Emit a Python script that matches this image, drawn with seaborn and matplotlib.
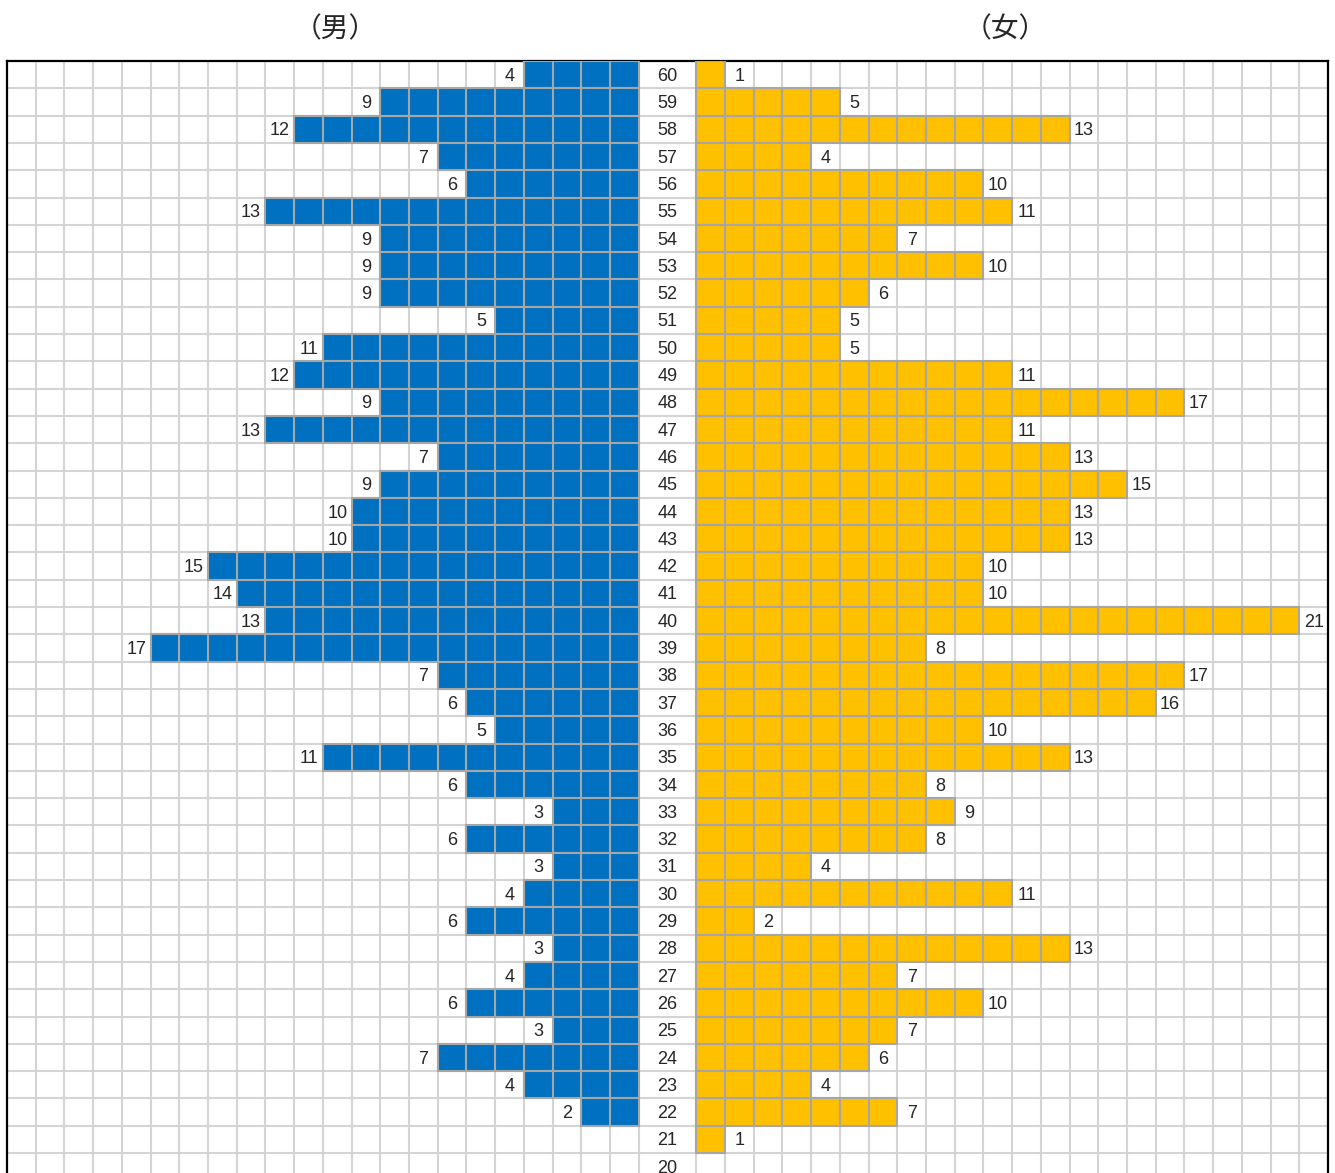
import numpy as np
import pandas as pd
import matplotlib
matplotlib.use("Agg")
import matplotlib.pyplot as plt
import seaborn as sns

# Headcount by age (60 down to 20), men on the left, women on the right
ages = list(range(60, 19, -1))
male = [4, 9, 12, 7, 6, 13, 9, 9, 9, 5,
        11, 12, 9, 13, 7, 9, 10, 10, 15, 14,
        13, 17, 7, 6, 5, 11, 6, 3, 6, 3,
        4, 6, 3, 4, 6, 3, 7, 4, 2, 0, 0]
female = [1, 5, 13, 4, 10, 11, 7, 10, 6, 5,
          5, 11, 17, 11, 13, 15, 13, 13, 10, 10,
          21, 8, 17, 16, 10, 13, 8, 9, 8, 4,
          11, 2, 13, 7, 10, 7, 6, 4, 7, 1, 0]
titles = ["（男）", "（女）"]

BLUE = "#0070C0"
GOLD = "#FFC000"
CELL_EDGE = "#A6A6A6"
GRID = "#D4D4D4"
SIDE = 22        # cells on each side
AGE_COLS = 2     # width of the centre age column, in cells
LW = 1.5
TXT_DY = 0.06    # nudge labels slightly below the row centre

sns.set_style("white")
plt.rcParams["font.family"] = ["Liberation Sans", "DejaVu Sans"]

df = pd.DataFrame({"age": [str(a) for a in ages], "male": male, "female": female})
order = list(df["age"])
men = df[df["male"] > 0].assign(val=lambda d: -d["male"])
women = df[df["female"] > 0]

W, H = 1335, 1173
fig = plt.figure(figsize=(W / 100, H / 100), dpi=100)
row_px = 27.3
top_px = 61.0
n_rows = len(ages)
ax_h = n_rows * row_px / H
ax_top = 1 - top_px / H
ax = fig.add_axes([7 / W, ax_top - ax_h, 1321 / W, ax_h])

sns.barplot(data=men, x="val", y="age", order=order, orient="y",
            color=BLUE, saturation=1, width=1, errorbar=None,
            edgecolor=CELL_EDGE, linewidth=LW, zorder=3, ax=ax)
sns.barplot(data=women, x="female", y="age", order=order, orient="y",
            color=GOLD, saturation=1, width=1, errorbar=None,
            edgecolor=CELL_EDGE, linewidth=LW, zorder=3, left=AGE_COLS, ax=ax)

# cell dividers inside each bar
for p in list(ax.patches):
    x0 = p.get_x()
    x1 = x0 + p.get_width()
    lo, hi = min(x0, x1), max(x0, x1)
    xs = np.arange(np.floor(lo) + 1, np.ceil(hi))
    xs = xs[(xs > lo + 1e-6) & (xs < hi - 1e-6)]
    if len(xs):
        y0 = p.get_y()
        ax.vlines(xs, y0, y0 + p.get_height(), color=CELL_EDGE, lw=LW, zorder=3.5)

# value and age labels
for i, (a, mv, fv) in enumerate(zip(ages, male, female)):
    y = i + TXT_DY
    ax.text(AGE_COLS / 2, y, str(a), ha="center", va="center", fontsize=13, zorder=5)
    if mv > 0:
        ax.text(-(mv + 0.5), y, str(mv), ha="center", va="center", fontsize=13, zorder=5)
    if fv > 0:
        ax.text(AGE_COLS + fv + 0.5, y, str(fv), ha="center", va="center", fontsize=13, zorder=5)

ax.set_xlim(-SIDE, SIDE + AGE_COLS)
ax.set_ylim(n_rows - 0.5, -0.5)
ax.set_xticks([])
ax.set_yticks([])
ax.set_xticks([x for x in range(-SIDE + 1, SIDE + AGE_COLS) if x != AGE_COLS // 2], minor=True)
ax.set_yticks(np.arange(0.5, n_rows - 0.5, 1), minor=True)
ax.grid(which="minor", color=GRID, lw=LW)
ax.set_axisbelow(True)
ax.tick_params(which="both", length=0, labelleft=False, labelbottom=False)
ax.set_xlabel("")
ax.set_ylabel("")
for side in ["top", "left", "right"]:
    ax.spines[side].set_visible(True)
    ax.spines[side].set_color("black")
    ax.spines[side].set_linewidth(1.6)
ax.spines["bottom"].set_visible(False)

cjk = ["Noto Sans CJK JP", "DejaVu Sans"]
fig.text(335 / W, 1 - 29 / H, titles[0], ha="center", va="center", fontsize=20, family=cjk)
fig.text(1005 / W, 1 - 29 / H, titles[1], ha="center", va="center", fontsize=20, family=cjk)

fig.savefig("out.png", dpi=100)
